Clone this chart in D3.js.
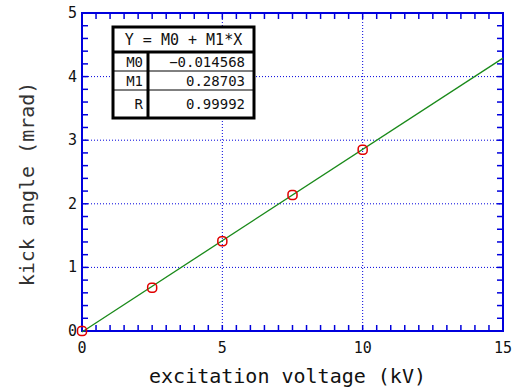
<!DOCTYPE html>
<html>
<head>
<meta charset="utf-8">
<script src="https://cdn.jsdelivr.net/npm/d3@7"></script>
<style>
  body { margin: 0; background: #fff; }
  svg { display: block; font-family: "DejaVu Sans Mono", "Liberation Mono", monospace; }
</style>
</head>
<body>
<svg id="chart" width="515" height="389"></svg>
<script>
// measured points
var voltage = [0, 2.5, 5, 7.5, 10];
var kick = [0, 0.68, 1.41, 2.14, 2.85];
// fit result
var fitNames = ["M0", "M1", "R"];
var fitValues = ["-0.014568", "0.28703", "0.99992"];
var fitM0 = -0.014568, fitM1 = 0.28703;
var xTicks = [0, 5, 10, 15];
var yTicks = [0, 1, 2, 3, 4, 5];

var margin = { top: 13, right: 12, bottom: 58, left: 82 };
var width = 515 - margin.left - margin.right;
var height = 389 - margin.top - margin.bottom;

var svg = d3.select("#chart");
var g = svg.append("g").attr("transform", "translate(" + margin.left + "," + margin.top + ")");

var x = d3.scaleLinear().domain([0, 15]).range([0, width]);
var y = d3.scaleLinear().domain([0, 5]).range([height, 0]);

var blue = "#0000dd";

// dotted grid
g.selectAll(".gx").data(xTicks.slice(1, -1)).enter().append("line")
  .attr("x1", d => x(d)).attr("x2", d => x(d)).attr("y1", 0).attr("y2", height)
  .attr("stroke", blue).attr("stroke-width", 1).attr("stroke-dasharray", "1,2");
g.selectAll(".gy").data(yTicks.slice(1, -1)).enter().append("line")
  .attr("y1", d => y(d)).attr("y2", d => y(d)).attr("x1", 0).attr("x2", width)
  .attr("stroke", blue).attr("stroke-width", 1).attr("stroke-dasharray", "1,2");

// minor ticks, inward, on all four sides
var xMinor = d3.range(0, 15.01, 0.5);
var yMinor = d3.range(0, 5.01, 0.2);
g.selectAll(".tb").data(xMinor).enter().append("line")
  .attr("x1", d => x(d)).attr("x2", d => x(d)).attr("y1", height).attr("y2", height - 6)
  .attr("stroke", blue).attr("stroke-width", 1.5);
g.selectAll(".tt").data(xMinor).enter().append("line")
  .attr("x1", d => x(d)).attr("x2", d => x(d)).attr("y1", 0).attr("y2", 6)
  .attr("stroke", blue).attr("stroke-width", 1.5);
g.selectAll(".tl").data(yMinor).enter().append("line")
  .attr("y1", d => y(d)).attr("y2", d => y(d)).attr("x1", 0).attr("x2", 6)
  .attr("stroke", blue).attr("stroke-width", 1.5);
g.selectAll(".tr").data(yMinor).enter().append("line")
  .attr("y1", d => y(d)).attr("y2", d => y(d)).attr("x1", width).attr("x2", width - 6)
  .attr("stroke", blue).attr("stroke-width", 1.5);

// frame
g.append("rect").attr("width", width).attr("height", height)
  .attr("fill", "none").attr("stroke", blue).attr("stroke-width", 2);

// tick labels
g.selectAll(".xl").data(xTicks).enter().append("text")
  .attr("x", d => x(d)).attr("y", height + 22)
  .attr("text-anchor", "middle").attr("font-size", 15).attr("fill", "#111")
  .text(d => d);
g.selectAll(".yl").data(yTicks).enter().append("text")
  .attr("x", -5).attr("y", d => y(d) + 5)
  .attr("text-anchor", "end").attr("font-size", 15).attr("fill", "#111")
  .text(d => d);

// axis titles
svg.append("text")
  .attr("x", margin.left + width / 2 - 5).attr("y", 383)
  .attr("text-anchor", "middle").attr("font-size", 20).attr("fill", "#111")
  .text("excitation voltage (kV)");
svg.append("text")
  .attr("transform", "translate(34," + (margin.top + height / 2 + 12) + ") rotate(-90)")
  .attr("text-anchor", "middle").attr("font-size", 20).attr("fill", "#333")
  .text("kick angle (mrad)");

// fit line
var line = d3.line().x(d => x(d)).y(d => y(fitM0 + fitM1 * d));
g.append("path").datum([0, 15]).attr("d", line)
  .attr("fill", "none").attr("stroke", "#1a8a1a").attr("stroke-width", 1.3);

// data points
g.selectAll(".pt").data(voltage).enter().append("rect")
  .attr("x", d => x(d) - 4.5).attr("y", (d, i) => y(kick[i]) - 4.5)
  .attr("width", 9).attr("height", 9).attr("rx", 3.5)
  .attr("fill", "none").attr("stroke", "#e00000").attr("stroke-width", 1.5);

// fit table
var tx = 113, ty = 27, tw = 141, th = 91, colX = 148;
var rowY = [ty, 52, 71, 90, ty + th];
var tbl = svg.append("g");
tbl.append("rect").attr("x", tx).attr("y", ty).attr("width", tw).attr("height", th)
  .attr("fill", "#fff").attr("stroke", "#000").attr("stroke-width", 3);
tbl.append("line").attr("x1", tx).attr("x2", tx + tw).attr("y1", rowY[1]).attr("y2", rowY[1])
  .attr("stroke", "#000").attr("stroke-width", 3);
[rowY[2], rowY[3]].forEach(function(yy) {
  tbl.append("line").attr("x1", tx).attr("x2", tx + tw).attr("y1", yy).attr("y2", yy)
    .attr("stroke", "#000").attr("stroke-width", 1);
});
tbl.append("line").attr("x1", colX).attr("x2", colX).attr("y1", rowY[1]).attr("y2", ty + th)
  .attr("stroke", "#000").attr("stroke-width", 3);
tbl.append("text").attr("x", tx + tw / 2).attr("y", 45).attr("text-anchor", "middle")
  .attr("font-size", 15).attr("fill", "#111").text("Y = M0 + M1*X");
fitNames.forEach(function(n, i) {
  var cy = (rowY[i + 1] + rowY[i + 2]) / 2 + 5;
  tbl.append("text").attr("x", colX - 5).attr("y", cy).attr("text-anchor", "end")
    .attr("font-size", 14).attr("fill", "#111").text(n);
  tbl.append("text").attr("x", tx + tw - 9).attr("y", cy).attr("text-anchor", "end")
    .attr("font-size", 14).attr("fill", "#111").text(fitValues[i].replace("-", "\u2212"));
});
</script>
</body>
</html>
